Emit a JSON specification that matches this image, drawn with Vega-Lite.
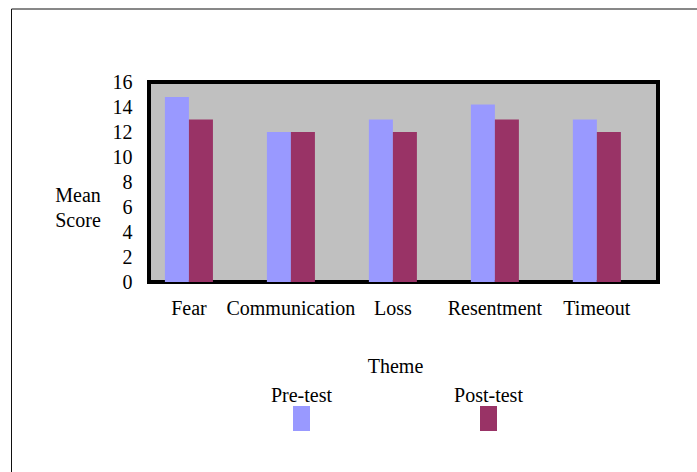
{
  "$schema": "https://vega.github.io/schema/vega-lite/v6.json",
  "width": 509,
  "height": 200,
  "autosize": {"type": "none"},
  "padding": {"left": 149, "top": 82, "right": 39, "bottom": 190},
  "background": "white",
  "data": {
    "values": [
      {"theme": "Fear", "test": "Pre-test", "score": 14.8},
      {"theme": "Fear", "test": "Post-test", "score": 13},
      {"theme": "Communication", "test": "Pre-test", "score": 12},
      {"theme": "Communication", "test": "Post-test", "score": 12},
      {"theme": "Loss", "test": "Pre-test", "score": 13},
      {"theme": "Loss", "test": "Post-test", "score": 12},
      {"theme": "Resentment", "test": "Pre-test", "score": 14.2},
      {"theme": "Resentment", "test": "Post-test", "score": 13},
      {"theme": "Timeout", "test": "Pre-test", "score": 13},
      {"theme": "Timeout", "test": "Post-test", "score": 12}
    ]
  },
  "mark": {"type": "bar"},
  "encoding": {
    "x": {
      "field": "theme",
      "type": "nominal",
      "sort": ["Fear", "Communication", "Loss", "Resentment", "Timeout"],
      "scale": {"paddingInner": 0.529, "paddingOuter": 0.26, "align": 0.3},
      "axis": {
        "title": "Theme",
        "titleFontSize": 20,
        "titleFontWeight": "normal",
        "titleColor": "black",
        "titleFont": "Liberation Serif",
        "titleX": 246,
        "titleY": 84,
        "titleAlign": "center",
        "titleBaseline": "middle",
        "labelAngle": 0,
        "labelFontSize": 20,
        "labelFont": "Liberation Serif",
        "labelColor": "black",
        "labelPadding": 16,
        "ticks": false,
        "tickSize": 0,
        "domain": false,
        "grid": false,
        "encode": {
          "labels": {
            "update": {
              "dx": {"signal": "datum.value == 'Fear' ? -13 : datum.value == 'Communication' ? -3 : datum.value == 'Loss' ? -5 : datum.value == 'Resentment' ? -10 : 2"}
            }
          }
        }
      }
    },
    "xOffset": {
      "field": "test",
      "type": "nominal",
      "sort": ["Pre-test", "Post-test"],
      "scale": {"paddingInner": 0, "paddingOuter": 0}
    },
    "y": {
      "field": "score",
      "type": "quantitative",
      "scale": {"domain": [0, 16], "nice": false},
      "axis": {
        "values": [0, 2, 4, 6, 8, 10, 12, 14, 16],
        "title": ["Mean", "Score"],
        "titleAngle": 0,
        "titleX": -71.5,
        "titleY": 103,
        "titleAlign": "center",
        "titleBaseline": "top",
        "titleLineHeight": 25,
        "titleFontSize": 20,
        "titleFontWeight": "normal",
        "titleFont": "Liberation Serif",
        "titleColor": "black",
        "labelFontSize": 20,
        "labelFont": "Liberation Serif",
        "labelColor": "black",
        "labelPadding": 17,
        "labelFlush": false,
        "labelOverlap": false,
        "ticks": false,
        "tickSize": 0,
        "domain": false,
        "grid": false
      }
    },
    "color": {
      "field": "test",
      "type": "nominal",
      "scale": {"domain": ["Pre-test", "Post-test"], "range": ["#9999FF", "#993366"]},
      "legend": {
        "orient": "none",
        "legendX": 140,
        "legendY": 324,
        "direction": "horizontal",
        "title": null,
        "padding": 0,
        "symbolType": "M-0.68,-1H0.68V1H-0.68Z",
        "symbolSize": 625,
        "symbolStrokeWidth": 0,
        "labelAlign": "center",
        "labelOffset": -12.5,
        "labelFontSize": 20,
        "labelFont": "Liberation Serif",
        "labelColor": "black",
        "columnPadding": 121,
        "encode": {"labels": {"update": {"dy": {"value": -23}}}}
      }
    },
    "strokeDash": {
      "field": "theme",
      "type": "nominal",
      "legend": {
        "orient": "none",
        "legendX": -138,
        "legendY": -73.5,
        "title": null,
        "padding": 500,
        "strokeColor": "#111111",
        "symbolOpacity": 0,
        "labelOpacity": 0,
        "labelExpr": "''",
        "encode": {"legend": {"update": {"strokeWidth": {"value": 2}}}}
      }
    }
  },
  "config": {
    "view": {"fill": "#C0C0C0", "stroke": "#000000", "strokeWidth": 4},
    "font": "Liberation Serif"
  }
}
